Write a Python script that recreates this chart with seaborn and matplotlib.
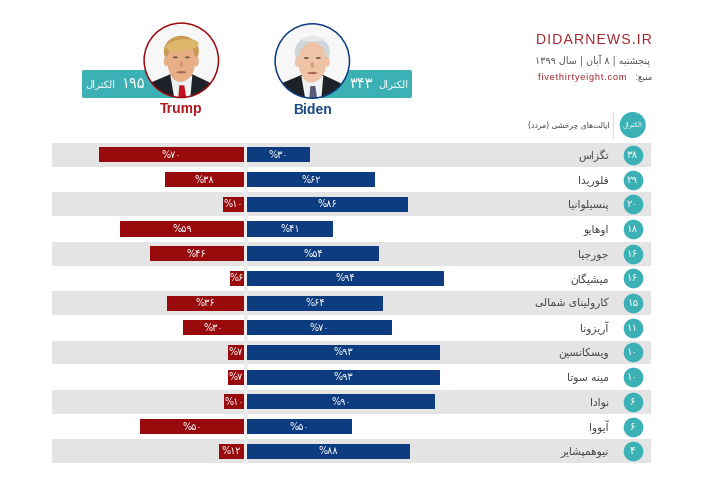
import unicodedata
import matplotlib
matplotlib.use("Agg")
import matplotlib.pyplot as plt
from matplotlib.patches import Circle, Ellipse, FancyBboxPatch, Polygon
import seaborn as sns

states = ["تگزاس", "فلوریدا", "پنسیلوانیا", "اوهایو", "جورجیا", "میشیگان", "کارولینای شمالی",
          "آریزونا", "ویسکانسین", "مینه سوتا", "نوادا", "آیووا", "نیوهمپشایر"]
electoral = [38, 29, 20, 18, 16, 16, 15, 11, 10, 10, 6, 6, 4]
biden_pct = [30, 62, 86, 41, 54, 94, 64, 70, 93, 93, 90, 50, 88]
trump_pct = [70, 38, 10, 59, 46, 6, 36, 30, 7, 7, 10, 50, 12]
# bar lengths as drawn in the picture, some differ from the printed numbers
biden_len = [30, 61, 77, 41, 63, 94, 65, 69, 92, 92, 90, 50, 78]
trump_len = [69, 37.5, 10, 59, 45, 6.5, 36.5, 29, 7.3, 7.3, 9.4, 49.6, 11.6]

RED = "#990a0d"
BLUE = "#0d3c80"
TEAL = "#3bb0b5"
BAND = "#e4e4e4"
PX_PER_UNIT = 2.09

#table of arabic presentation forms, matplotlib does no shaping by itself
FORMS = {}
for cp in list(range(0xFB50, 0xFE00)) + list(range(0xFE70, 0xFF00)):
    parts = unicodedata.decomposition(chr(cp)).split()
    if len(parts) == 2 and parts[0] in ("<isolated>", "<final>", "<initial>", "<medial>"):
        FORMS[(chr(int(parts[1], 16)), parts[0].strip("<>"))] = chr(cp)


def shape_word(word):
    out = []
    for i, c in enumerate(word):
        if c == "\u200c":
            continue
        prev = word[i - 1] if i > 0 else ""
        nxt = word[i + 1] if i < len(word) - 1 else ""
        join_prev = (prev, "initial") in FORMS and (c, "final") in FORMS
        join_next = (c, "initial") in FORMS and (nxt, "final") in FORMS
        if join_prev and join_next:
            form = "medial"
        elif join_prev:
            form = "final"
        elif join_next:
            form = "initial"
        else:
            form = "isolated"
        out.append(FORMS.get((c, form), c))
    word = "".join(out)[::-1]
    return word.translate(str.maketrans("()", ")("))


def fa(text):
    #words get reversed, and the word order too, digit runs stay as they are
    words = []
    for w in text.split(" "):
        if w and all(c in "۰۱۲۳۴۵۶۷۸۹" for c in w):
            words.append(w)
        else:
            words.append(shape_word(w))
    return " ".join(words[::-1])


def fa_num(n):
    return str(n).translate(str.maketrans("0123456789", "۰۱۲۳۴۵۶۷۸۹"))


def draw_portrait(ax, cx, cy, ring, hair, skin, tie, fringe):
    ax.add_patch(Circle((cx, cy), 37.2, fc="#f7f7f7", lw=0))
    clip = Circle((cx, cy), 37.2, transform=ax.transData)
    parts = [
        Polygon([(cx - 38, cy + 38), (cx - 30, cy + 22), (cx - 11, cy + 14), (cx + 11, cy + 14),
                 (cx + 28, cy + 22), (cx + 38, cy + 38)], fc="#1d2128"),
        Polygon([(cx - 11, cy + 15), (cx + 11, cy + 15), (cx + 9, cy + 38), (cx - 7, cy + 38)], fc="#eef2f2"),
        Polygon([(cx - 2, cy + 25), (cx + 3, cy + 25), (cx + 5, cy + 38), (cx - 3, cy + 38)], fc=tie),
        Ellipse((cx, cy - 9), 35, 31, fc=hair),
        Ellipse((cx - 15, cy + 1), 5, 10, fc=skin),
        Ellipse((cx + 15, cy + 1), 5, 10, fc=skin),
        Ellipse((cx - 1, cy + 13), 19, 17, fc=skin),
        Ellipse((cx, cy + 1), 28, 40, fc=skin),
        fringe,
        Ellipse((cx - 6, cy - 3), 5, 1.8, fc="#6b5040"),
        Ellipse((cx + 6, cy - 3), 5, 1.8, fc="#6b5040"),
        Ellipse((cx, cy + 4), 3.5, 6, fc="#d99a78"),
        Ellipse((cx, cy + 12), 10, 2.2, fc="#a8655a"),
    ]
    for p in parts:
        p.set_linewidth(0)
        ax.add_patch(p)
        p.set_clip_path(clip)
    ax.add_patch(Circle((cx, cy), 37.2, fc="none", ec=ring, lw=1.1))


sns.set_theme(style="white")
plt.rcParams["font.family"] = ["DejaVu Sans"]

fig = plt.figure(figsize=(7.03, 4.87), dpi=100)
W, H = 703, 487

#background layer in pixel units, for the header and the row bands
bg = fig.add_axes([0, 0, 1, 1])
bg.set_xlim(0, W)
bg.set_ylim(H, 0)
bg.axis("off")

TOP, BOTTOM, LEFT, RIGHT = 142.6, 463.6, 52, 651
row_h = (BOTTOM - TOP) / len(states)
for i in range(0, len(states), 2):
    bg.fill_between([LEFT, RIGHT], TOP + i * row_h + 0.4, TOP + (i + 1) * row_h - 0.4, color=BAND, lw=0)
bg.plot([245.5, 245.5], [TOP, BOTTOM], color="#ececec", lw=2.6, solid_capstyle="butt")

#two panels growing away from the centre line
def panel(x0, x1):
    ax = fig.add_axes([x0 / W, 1 - BOTTOM / H, (x1 - x0) / W, (BOTTOM - TOP) / H], facecolor="none")
    return ax

ax_l = panel(LEFT, 243.7)
ax_r = panel(247.3, RIGHT)
sns.barplot(x=trump_len, y=list(range(13)), orient="y", color=RED, saturation=1, width=0.61, linewidth=0, ax=ax_l)
sns.barplot(x=biden_len, y=list(range(13)), orient="y", color=BLUE, saturation=1, width=0.61, linewidth=0, ax=ax_r)
ax_l.set_xlim((243.7 - LEFT) / PX_PER_UNIT, 0)
ax_r.set_xlim(0, (RIGHT - 247.3) / PX_PER_UNIT)
for ax in (ax_l, ax_r):
    ax.set_ylim(12.5, -0.5)
    ax.axis("off")

for i in range(len(states)):
    ax_l.text(trump_len[i] / 2, i, "%" + fa_num(trump_pct[i]), color="white", fontsize=7,
              ha="center", va="center")
    ax_r.text(biden_len[i] / 2, i, "%" + fa_num(biden_pct[i]), color="white", fontsize=7,
              ha="center", va="center")
    ax_r.text(172.9, i + 0.02, fa(states[i]), color="#444444", fontsize=7.7, ha="right", va="center")

circle_x = (632.7 - 247.3) / PX_PER_UNIT
ax_r.scatter([circle_x] * 13, range(13), s=200, color=TEAL, linewidths=0, clip_on=False, zorder=3)
for i, v in enumerate(electoral):
    ax_r.text(circle_x, i, fa_num(v), color="white", fontsize=7.5, ha="center", va="center", zorder=4)

#header on the right, hair spaces stand in for the letter spacing
bg.text(652, 40.5, "\u200a".join("DIDARNEWS.IR"), family="Liberation Sans", color="#a3262f", fontsize=10.1,
        ha="right", va="center")
bg.text(650, 61, fa("پنجشنبه | ۸ آبان | سال ۱۳۹۹"), color="#555555", fontsize=6.9, ha="right", va="center")
bg.text(652, 77.5, fa("منبع:"), color="#555555", fontsize=6.2, ha="right", va="center")
bg.text(626, 77.5, "\u200a".join("fivethirtyeight.com"), family="Liberation Sans", color="#a3262f", fontsize=6.7,
        ha="right", va="center")
bg.plot([613.3, 613.3], [112, 138], color="#dddddd", lw=0.8)
bg.text(609, 125, fa("ایالت‌های چرخشی (مردد)"), color="#444444", fontsize=5.5, ha="right", va="center")
bg.add_patch(Circle((632.7, 125), 13, fc=TEAL, lw=0))
bg.text(632.7, 125, fa("الکترال"), color="white", fontsize=4.8, ha="center", va="center")

#candidate pills
bg.add_patch(FancyBboxPatch((84, 72), 100, 24, boxstyle="round,pad=2,rounding_size=2", fc=TEAL, lw=0))
bg.add_patch(FancyBboxPatch((310, 72), 100, 24, boxstyle="round,pad=2,rounding_size=2", fc=TEAL, lw=0))
bg.text(100, 84, fa("الکترال"), color="white", fontsize=7.2, ha="center", va="center")
bg.text(134, 83.5, fa_num(195), color="white", fontsize=10.5, ha="center", va="center")
bg.text(361, 83.5, fa_num(343), color="white", fontsize=10.5, ha="center", va="center")
bg.text(393, 84, fa("الکترال"), color="white", fontsize=7.2, ha="center", va="center")

#portraits, the original photos are drawn as simple shapes
cx, cy = 181.3, 60.3
draw_portrait(bg, cx, cy, RED, "#c99a52", "#e8ae86", "#c1121f",
              Ellipse((cx + 1, cy - 15), 33, 12, angle=-6, fc="#ddb76c"))
cx, cy = 312.3, 61
draw_portrait(bg, cx, cy, BLUE, "#cfd5d8", "#efc4a6", "#5a5a78",
              Ellipse((cx, cy - 22), 24, 5, fc="#e4e8ea"))

bg.text(181, 108.5, "Trump", family="Liberation Sans", fontweight="bold", color="#b3171d", fontsize=10,
        ha="center", va="center")
bg.text(313, 109.5, "Biden", family="Liberation Sans", fontweight="bold", color="#1c4a85", fontsize=10,
        ha="center", va="center")

fig.savefig("out.png", dpi=100)
